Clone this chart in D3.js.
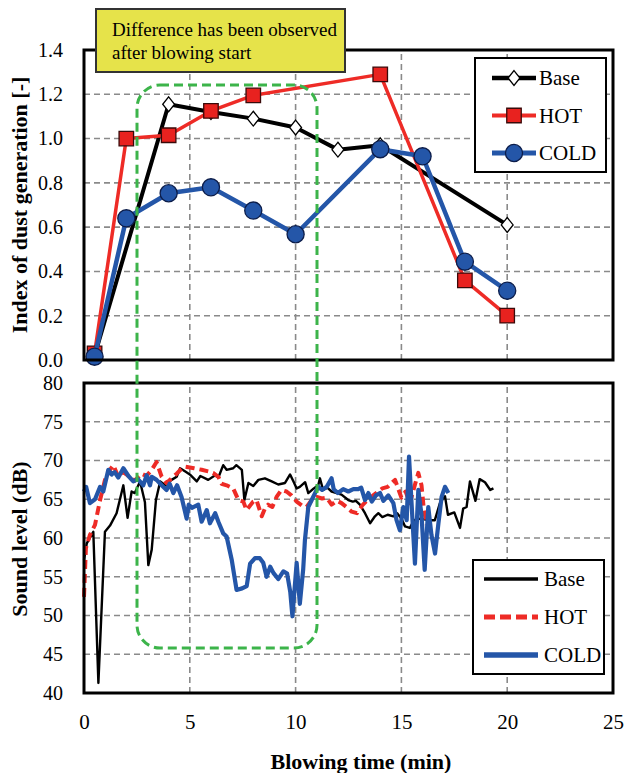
<!DOCTYPE html>
<html>
<head>
<meta charset="utf-8">
<script src="https://cdn.jsdelivr.net/npm/d3@7"></script>
<style>
  body { margin: 0; background: #fff; }
  svg { display: block; }
</style>
</head>
<body>
<svg id="chart" width="624" height="773"></svg>
<script>
// dust index (top panel)
const baseDustT = [0.5, 4, 6, 8, 10, 12, 14, 20];
const baseDust = [0.02, 1.155, 1.12, 1.09, 1.05, 0.95, 0.97, 0.61];
const hotDustT = [0.5, 2, 4, 6, 8, 14, 18, 20];
const hotDust = [0.03, 1.0, 1.015, 1.125, 1.195, 1.29, 0.36, 0.2];
const coldDustT = [0.5, 2, 4, 6, 8, 10, 14, 16, 18, 20];
const coldDust = [0.015, 0.64, 0.753, 0.78, 0.675, 0.568, 0.952, 0.92, 0.444, 0.313];

// sound level (bottom panel), [min, dB]
const baseSound = [
  [0, 57.2], [0.13, 59.3], [0.44, 60.8], [0.68, 41.3], [0.99, 60.8], [1.23, 61.6], [1.54, 63.2],
  [1.86, 66.8], [2.06, 62.6], [2.25, 66], [2.4, 65.8], [2.65, 67.3], [2.88, 64.6], [3.04, 56.5],
  [3.2, 58.5], [3.4, 64.9], [3.6, 67.3], [3.84, 66.8], [4.14, 67.5], [4.38, 67.9], [4.54, 69.0],
  [4.77, 68.6], [5.0, 68.2], [5.33, 67.3], [5.5, 68], [5.87, 67.5], [6.2, 68.1], [6.35, 67.8],
  [6.58, 69.4], [6.74, 68.8], [7.05, 69.0], [7.2, 69.4], [7.46, 68.8], [7.58, 64.9], [7.77, 67.1],
  [8.0, 66.7], [8.24, 67.5], [8.55, 67.7], [8.87, 67.3], [9.18, 66.9], [9.5, 67.1], [9.74, 68.2],
  [9.9, 67.3], [10.05, 66.4], [10.2, 66.6], [10.45, 67.2], [10.6, 65.8], [10.86, 66.4], [11.07, 66.8],
  [11.15, 67.7], [11.3, 66.2], [11.5, 66.5], [11.7, 66.0], [11.94, 65.8], [12.17, 65.6], [12.49, 64.9],
  [12.7, 64.7], [12.85, 64.8], [13.04, 64.3], [13.28, 63.2], [13.52, 61.9], [13.75, 62.8], [13.91, 63.2],
  [14.1, 62.7], [14.35, 63.0], [14.62, 62.8], [14.8, 63.2], [15.0, 62.5], [15.17, 61.5], [15.4, 61.3],
  [15.6, 62.3], [15.9, 62.5], [16.27, 62.3], [16.58, 62.3], [16.82, 64.5], [17.06, 65.4], [17.2, 63.0],
  [17.5, 63.3], [17.77, 61.3], [17.92, 63.8], [18.08, 64.0], [18.24, 67.3], [18.5, 64.8], [18.7, 67.6],
  [18.95, 67.2], [19.2, 66.2], [19.35, 66.4],
];
const hotSound = [
  [0, 52.4], [0.09, 58.7], [0.28, 60.4], [0.52, 61.7], [0.76, 64.9], [0.99, 67.5], [1.23, 68.8],
  [1.39, 69.4], [1.62, 67.9], [1.85, 68.5], [2.1, 68.0], [2.4, 67.4], [2.72, 68.3], [2.95, 68.0],
  [3.2, 68.8], [3.43, 69.8], [3.67, 67.9], [3.9, 67.1], [4.14, 67.7], [4.38, 68.3], [4.6, 68.9],
  [4.77, 69.2], [5.2, 69.0], [5.56, 68.8], [5.87, 68.6], [6.1, 68.4], [6.35, 67.9], [6.5, 67.0],
  [6.74, 66.8], [7.05, 66.4], [7.3, 64.9], [7.53, 64.7], [7.68, 63.6], [7.85, 64.2], [8.0, 64.7],
  [8.15, 64.9], [8.4, 62.8], [8.55, 63.8], [8.7, 64.3], [8.9, 64.0], [9.1, 65.3], [9.33, 66.2],
  [9.57, 66.0], [9.8, 65.5], [10.05, 64.7], [10.3, 64.2], [10.52, 64.0], [10.76, 64.9], [11.0, 65.3],
  [11.25, 65.1], [11.47, 65.2], [11.7, 64.3], [11.95, 64.8], [12.17, 64.5], [12.4, 64.0], [12.65, 63.4],
  [12.9, 63.2], [13.15, 64.2], [13.4, 64.9], [13.67, 65.5], [13.9, 66.0], [14.1, 66.4], [14.35, 66.6],
  [14.54, 67.1], [14.7, 67.5], [15.0, 65.2], [15.2, 66.0], [15.4, 64.5], [15.6, 66.5], [15.8, 68.4],
  [15.95, 66.8], [16.05, 64.0], [16.19, 61.7],
];
const coldSound = [
  [0, 66.0], [0.1, 66.6], [0.28, 64.5], [0.52, 65.0], [0.76, 66.6], [0.91, 66.0], [1.15, 68.8],
  [1.31, 68.2], [1.45, 68.5], [1.62, 67.8], [1.86, 69.0], [2.1, 68.0], [2.33, 67.3], [2.55, 67.6],
  [2.8, 66.8], [2.96, 68.1], [3.12, 66.8], [3.2, 67.9], [3.43, 67.5], [3.67, 66.8], [3.9, 66.2],
  [4.05, 67.0], [4.22, 65.8], [4.4, 66.8], [4.61, 65.3], [4.85, 62.5], [4.95, 64.3], [5.1, 63.9],
  [5.4, 64.3], [5.56, 62.1], [5.8, 63.6], [5.95, 61.9], [6.2, 63.2], [6.35, 62.1], [6.58, 60.6],
  [6.74, 60.2], [6.98, 57.2], [7.21, 53.3], [7.47, 53.5], [7.69, 53.8], [7.85, 56.7], [8.08, 57.4],
  [8.31, 57.4], [8.47, 56.8], [8.63, 55.0], [8.8, 56.3], [8.95, 55.5], [9.18, 54.7], [9.42, 55.7],
  [9.6, 55.4], [9.75, 53.0], [9.85, 49.9], [10.05, 56.8], [10.2, 51.5], [10.36, 56.0], [10.44, 59.7],
  [10.6, 64.0], [10.76, 64.9], [10.92, 65.8], [11.07, 66.6], [11.25, 66.2], [11.47, 66.6], [11.7, 67.7],
  [11.8, 66.3], [12.0, 65.8], [12.25, 66.3], [12.49, 66.0], [12.73, 66.3], [12.96, 66.3], [13.1, 66.5],
  [13.28, 64.9], [13.44, 65.8], [13.6, 64.7], [13.8, 65.5], [13.99, 65.8], [14.15, 64.8], [14.38, 65.5],
  [14.62, 64.5], [14.77, 62.3], [14.93, 61.0], [15.09, 64.0], [15.25, 62.3], [15.36, 70.5], [15.5, 63.5],
  [15.64, 56.7], [15.8, 66.2], [15.95, 63.0], [16.1, 55.9], [16.27, 64.0], [16.42, 60.4], [16.59, 58.0],
  [16.75, 61.9], [16.9, 65.3], [17.06, 66.6], [17.22, 65.8],
];

const timeTicks = [0, 5, 10, 15, 20, 25];
const dustTicks = [0, 0.2, 0.4, 0.6, 0.8, 1.0, 1.2, 1.4];
const soundTicks = [40, 45, 50, 55, 60, 65, 70, 75, 80];
const seriesNames = ['Base', 'HOT', 'COLD'];
const noteLines = ['Difference has been observed', 'after blowing start'];

const FONT = '"Liberation Serif", "Times New Roman", serif';
const RED = '#ee2b26';
const BLUE = '#2456a8';
const GREEN = '#3cb44a';

const svg = d3.select('#chart').style('font-family', FONT);

const x = d3.scaleLinear().domain([0, 25]).range([84, 613]);
const yDust = d3.scaleLinear().domain([0, 1.4]).range([360, 50]);
const ySound = d3.scaleLinear().domain([40, 80]).range([693, 383]);

// custom wide diamond for Base markers
const wideDiamond = {
  draw(ctx, size) {
    const h = Math.sqrt(size) / 2;
    const w = h * 0.8;
    ctx.moveTo(0, -h);
    ctx.lineTo(w, 0);
    ctx.lineTo(0, h);
    ctx.lineTo(-w, 0);
    ctx.closePath();
  },
};

function grid(g, yScale, yValues) {
  const [y0, y1] = yScale.range();
  g.selectAll('line.h')
    .data(yValues)
    .join('line')
    .attr('class', 'h')
    .attr('x1', x(0))
    .attr('x2', x(25))
    .attr('y1', (d) => yScale(d))
    .attr('y2', (d) => yScale(d));
  g.selectAll('line.v')
    .data([5, 10, 15, 20])
    .join('line')
    .attr('class', 'v')
    .attr('x1', (d) => x(d))
    .attr('x2', (d) => x(d))
    .attr('y1', y0)
    .attr('y2', y1);
  g.selectAll('line')
    .attr('stroke', '#8a8a8a')
    .attr('stroke-width', 1.6)
    .attr('stroke-dasharray', '6,4');
}

function frame(yScale) {
  const [y0, y1] = yScale.range();
  svg
    .append('rect')
    .attr('x', x(0))
    .attr('y', y1)
    .attr('width', x(25) - x(0))
    .attr('height', y0 - y1)
    .attr('fill', 'none')
    .attr('stroke', '#000')
    .attr('stroke-width', 3);
}

function yAxis(yScale, ticks, fmt) {
  const g = svg
    .append('g')
    .attr('transform', `translate(${x(0)},0)`)
    .call(d3.axisLeft(yScale).tickValues(ticks).tickFormat(fmt).tickSize(0).tickPadding(21));
  g.select('.domain').remove();
  g.selectAll('text').attr('font-family', FONT).attr('font-size', 20).attr('fill', '#000');
}

// ---- top panel ----
svg.append('g').call(grid, yDust, [0.2, 0.4, 0.6, 0.8, 1.0, 1.2]);
yAxis(yDust, dustTicks, d3.format('.1f'));

const dustSeries = [
  { key: 'Base', t: baseDustT, v: baseDust, color: '#000', width: 4, type: wideDiamond, size: 220, fill: '#fff', stroke: '#000' },
  { key: 'HOT', t: hotDustT, v: hotDust, color: RED, width: 3.5, type: d3.symbolSquare, size: 210, fill: '#e8221f', stroke: '#3a0a0a' },
  { key: 'COLD', t: coldDustT, v: coldDust, color: BLUE, width: 4.5, type: d3.symbolCircle, size: 230, fill: BLUE, stroke: '#0c1d4a' },
];
const dustLine = d3.line().x((d) => x(d[0])).y((d) => yDust(d[1]));

dustSeries.forEach((s) => {
  const pts = s.t.map((t, i) => [t, s.v[i]]);
  const g = svg.append('g').attr('class', `dust-${s.key}`);
  g.append('path')
    .attr('d', dustLine(pts))
    .attr('fill', 'none')
    .attr('stroke', s.color)
    .attr('stroke-width', s.width)
    .attr('stroke-linejoin', 'round');
  g.selectAll('path.mk')
    .data(pts)
    .join('path')
    .attr('class', 'mk')
    .attr('transform', (d) => `translate(${x(d[0])},${yDust(d[1])})`)
    .attr('d', d3.symbol().type(s.type).size(s.size))
    .attr('fill', s.fill)
    .attr('stroke', s.stroke)
    .attr('stroke-width', 1.3);
});
frame(yDust);

// top legend
const legTop = svg.append('g').attr('transform', 'translate(475,58)');
legTop.append('rect').attr('width', 131).attr('height', 114).attr('fill', '#fff').attr('stroke', '#000').attr('stroke-width', 2);
dustSeries.forEach((s, i) => {
  const yy = 20 + i * 37.5;
  legTop.append('line')
    .attr('x1', 17).attr('x2', 61).attr('y1', yy).attr('y2', yy)
    .attr('stroke', s.color).attr('stroke-width', s.width + 0.5);
  legTop.append('path')
    .attr('transform', `translate(39,${yy})`)
    .attr('d', d3.symbol().type(s.type).size(s.size))
    .attr('fill', s.fill).attr('stroke', s.stroke).attr('stroke-width', 1.3);
  legTop.append('text')
    .attr('x', 64).attr('y', yy).attr('dy', '0.35em')
    .attr('font-size', 21).text(seriesNames[i]);
});

// ---- bottom panel ----
svg.append('g').call(grid, ySound, [45, 50, 55, 60, 65, 70, 75]);
yAxis(ySound, soundTicks, d3.format('d'));

const xg = svg
  .append('g')
  .attr('transform', `translate(0,${ySound(40)})`)
  .call(d3.axisBottom(x).tickValues(timeTicks).tickFormat(d3.format('d')).tickSize(0).tickPadding(21));
xg.select('.domain').remove();
xg.selectAll('text').attr('font-family', FONT).attr('font-size', 21).attr('fill', '#000');

const soundSeries = [
  { key: 'Base', data: baseSound, color: '#000', width: 2.4, dash: null, legWidth: 3.5 },
  { key: 'HOT', data: hotSound, color: RED, width: 4, dash: '9,5', legWidth: 5 },
  { key: 'COLD', data: coldSound, color: BLUE, width: 4.2, dash: null, legWidth: 5.5 },
];
const soundLine = d3.line().x((d) => x(d[0])).y((d) => ySound(d[1]));
soundSeries.forEach((s) => {
  svg.append('path')
    .attr('d', soundLine(s.data))
    .attr('fill', 'none')
    .attr('stroke', s.color)
    .attr('stroke-width', s.width)
    .attr('stroke-linejoin', 'round')
    .attr('stroke-dasharray', s.dash);
});
frame(ySound);

// bottom legend
const legBot = svg.append('g').attr('transform', 'translate(473,560)');
legBot.append('rect').attr('width', 131).attr('height', 114).attr('fill', '#fff').attr('stroke', '#000').attr('stroke-width', 2);
soundSeries.forEach((s, i) => {
  const yy = 19 + i * 38;
  legBot.append('line')
    .attr('x1', 11).attr('x2', 65).attr('y1', yy).attr('y2', yy)
    .attr('stroke', s.color).attr('stroke-width', s.legWidth)
    .attr('stroke-dasharray', s.dash ? '11,5' : null);
  legBot.append('text')
    .attr('x', 71).attr('y', yy).attr('dy', '0.35em')
    .attr('font-size', 21).text(seriesNames[i]);
});

// axis titles
svg.append('text')
  .attr('transform', `translate(27,${(yDust(0) + yDust(1.4)) / 2}) rotate(-90)`)
  .attr('text-anchor', 'middle')
  .attr('font-size', 22).attr('font-weight', 'bold')
  .text('Index of dust generation [-]');
svg.append('text')
  .attr('transform', `translate(27,${(ySound(40) + ySound(80)) / 2 + 1}) rotate(-90)`)
  .attr('text-anchor', 'middle')
  .attr('font-size', 22).attr('font-weight', 'bold')
  .text('Sound level (dB)');
svg.append('text')
  .attr('x', 361).attr('y', 769)
  .attr('text-anchor', 'middle')
  .attr('font-size', 22).attr('font-weight', 'bold')
  .text('Blowing time (min)');

// green dashed highlight spanning both panels
svg.append('rect')
  .attr('x', 137).attr('y', 85)
  .attr('width', 180).attr('height', 563)
  .attr('rx', 23).attr('ry', 23)
  .attr('fill', 'none')
  .attr('stroke', GREEN)
  .attr('stroke-width', 3)
  .attr('stroke-dasharray', '9,5');

// annotation box
const note = svg.append('g').attr('transform', 'translate(96,9)');
note.append('rect')
  .attr('width', 249).attr('height', 63)
  .attr('fill', '#e6e34a')
  .attr('stroke', '#333')
  .attr('stroke-width', 2);
note.selectAll('text')
  .data(noteLines)
  .join('text')
  .attr('x', 16)
  .attr('y', (d, i) => 27 + i * 23)
  .attr('font-size', 19)
  .text((d) => d);
</script>
</body>
</html>
